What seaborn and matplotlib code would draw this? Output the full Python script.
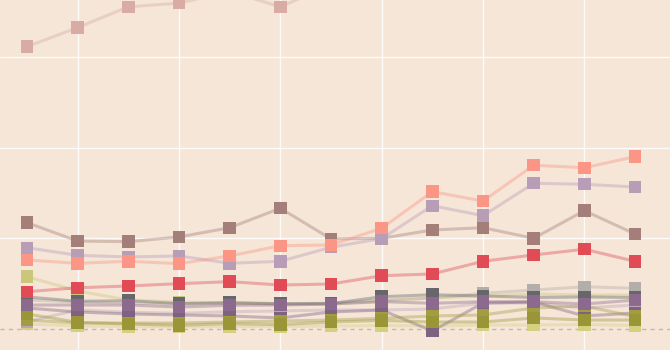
import matplotlib
matplotlib.use("Agg")
import matplotlib.pyplot as plt
import seaborn as sns
import pandas as pd

years = list(range(2000, 2013))

s_pink = [31.2, 33.3, 35.6, 36.0, 37.3, 35.6, 38.0, 40.5, 43.0, 44.5, 47.0, 48.0, 49.5]
s_brown = [11.75, 9.72, 9.65, 10.17, 11.19, 13.34, 9.95, 10.02, 10.94, 11.19, 10.02, 13.07, 10.50]
s_lilac = [8.98, 8.14, 7.96, 8.07, 7.26, 7.48, 9.03, 10.0, 13.62, 12.52, 16.10, 15.99, 15.69]
s_salmon = [7.62, 7.26, 7.48, 7.22, 8.07, 9.20, 9.28, 11.13, 15.17, 14.14, 18.09, 17.82, 19.04]
s_red = [4.12, 4.56, 4.75, 5.01, 5.23, 4.86, 4.97, 5.89, 6.08, 7.48, 8.18, 8.81, 7.48]
s_khaki = [5.78, 4.20, 3.20, 2.98, 2.87, 2.76, 2.76, 3.09, 3.43, 3.65, 3.87, 3.76, 3.76]
s_dgrey = [3.54, 3.06, 3.13, 2.80, 2.91, 2.80, 2.80, 3.57, 3.79, 3.65, 3.48, 3.54, 3.48]
s_lgrey = [3.20, 2.98, 2.87, 2.76, 2.87, 2.76, 2.87, 3.20, 3.43, 3.94, 4.31, 4.67, 4.50]
s_purple = [2.65, 2.65, 2.65, 2.43, 2.62, 2.65, 2.76, 3.02, 2.84, 3.02, 3.02, 2.76, 3.20]
s_mauve = [0.81, 2.10, 1.85, 1.73, 1.91, 1.99, 2.10, 2.10, 2.21, 2.87, 2.87, 2.32, 2.65]
s_plum = [2.32, 1.88, 1.66, 1.55, 1.44, 1.22, 1.88, 2.10, -0.22, 2.87, 2.98, 1.44, 1.77]
s_olive2 = [0.99, 0.66, 0.66, 0.66, 0.77, 0.88, 0.99, 1.18, 1.44, 1.55, 2.32, 2.54, 1.36]
s_olive = [1.66, 0.74, 0.55, 0.41, 0.59, 0.48, 0.77, 0.94, 0.77, 0.77, 1.22, 0.99, 0.99]
s_pale = [0.55, 0.33, 0.28, 0.22, 0.28, 0.28, 0.33, 0.39, 0.33, 0.44, 0.44, 0.50, 0.39]

series = {
    "pink": s_pink, "brown": s_brown, "lilac": s_lilac, "salmon": s_salmon,
    "khaki": s_khaki, "pale": s_pale, "lgrey": s_lgrey,
    "dgrey": s_dgrey, "mauve": s_mauve, "plum": s_plum,
    "olive2": s_olive2, "olive": s_olive, "purple": s_purple, "red": s_red,
}
colors = {
    "pink": "#d8aca4", "brown": "#a47e78", "lilac": "#b89db6", "salmon": "#fb9585",
    "red": "#e04b56", "khaki": "#cbc77a", "lgrey": "#b4aeaa", "dgrey": "#67666a",
    "mauve": "#bca3bb", "plum": "#7f6282", "purple": "#8c6a8d",
    "olive2": "#a39d42", "olive": "#9a9638", "pale": "#d5d07f",
}

rows = []
for name, vals in series.items():
    for i, v in enumerate(vals):
        rows.append({"idx": i, "year": years[i], "value": v, "series": name})
df = pd.DataFrame(rows)

sns.set_theme(style="white")
fig = plt.figure(figsize=(6.7, 3.5), dpi=100)
ax = fig.add_axes([0, 0, 1, 1])
bg = "#f5e6d8"
fig.patch.set_facecolor(bg)
ax.set_facecolor(bg)

order = list(series.keys())
sns.lineplot(data=df, x="idx", y="value", hue="series", palette=colors,
             hue_order=order, alpha=0.4, linewidth=2.2,
             legend=False, ax=ax, zorder=2)
sns.scatterplot(data=df, x="idx", y="value", hue="series", palette=colors,
                hue_order=order, marker="s", s=80, linewidth=0,
                legend=False, ax=ax, zorder=3)

ax.set_xlim(-0.533, 12.69)
ax.set_ylim(-2.32, 36.35)
ax.set_xticks(list(range(1, 13, 2)))
ax.set_xticklabels([str(y) for y in years[1::2]])
ax.set_yticks([10, 20, 30])
ax.tick_params(labelbottom=False, labelleft=False, length=0)
ax.grid(True, color="white", linewidth=1.0, alpha=0.85, zorder=0)
ax.set_axisbelow(True)
ax.axhline(0, color="#c2b8b0", linewidth=1, linestyle=(0, (3, 3)), zorder=1)
for sp in ax.spines.values():
    sp.set_visible(False)
ax.set_xlabel("")
ax.set_ylabel("")

fig.savefig("out.png", dpi=100, facecolor=bg)
